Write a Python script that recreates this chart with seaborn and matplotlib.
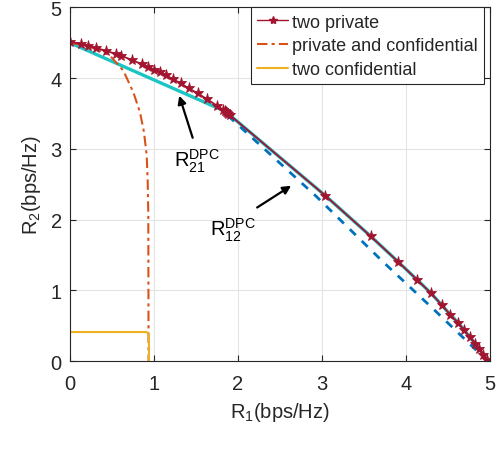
import numpy as np
import pandas as pd
import matplotlib
matplotlib.use("Agg")
import matplotlib.pyplot as plt
import seaborn as sns
from matplotlib.lines import Line2D

# ---------------------------------------------------------------
# Data
# ---------------------------------------------------------------
# two private (curved top part, then the near-straight part)
priv_x = [0.0, 0.131, 0.218, 0.31, 0.425, 0.548, 0.611, 0.734, 0.861, 0.925,
          1.0, 1.071, 1.143, 1.226, 1.318, 1.413, 1.52, 1.627, 1.75, 1.825,
          1.845, 1.86, 1.872, 1.885, 1.9,
          3.04, 3.58, 3.905, 4.131, 4.298, 4.425, 4.527, 4.619, 4.694, 4.758,
          4.825, 4.873, 4.92, 4.968]
priv_y = [4.516, 4.484, 4.455, 4.427, 4.389, 4.342, 4.318, 4.257, 4.196, 4.158,
          4.12, 4.083, 4.041, 3.985, 3.928, 3.857, 3.786, 3.706, 3.611, 3.55,
          3.535, 3.522, 3.51, 3.494, 3.48,
          2.338, 1.764, 1.405, 1.15, 0.958, 0.792, 0.655, 0.542, 0.434, 0.339,
          0.245, 0.17, 0.089, 0.01]

# R21 DPC (cyan) and R12 DPC (blue dashed)
dpc21_x = [0.0, 1.83, 1.9, 3.04, 3.58, 3.905, 4.131, 4.298, 4.425, 4.527, 4.619,
           4.694, 4.758, 4.825, 4.873, 4.92, 4.968]
dpc21_y = [4.5, 3.54, 3.48, 2.338, 1.764, 1.405, 1.15, 0.958, 0.792, 0.655, 0.542,
           0.434, 0.339, 0.245, 0.17, 0.089, 0.01]
dpc12_x = [1.88, 2.93, 3.72, 4.37, 4.97]
dpc12_y = [3.47, 2.33, 1.41, 0.685, 0.0]

# private and confidential
pc_x = [0.0, 0.2, 0.357, 0.476, 0.635, 0.754, 0.833, 0.881, 0.913, 0.925, 0.932, 0.935]
pc_y = [4.5, 4.46, 4.39, 4.318, 4.106, 3.80, 3.517, 3.235, 2.904, 2.528, 2.055, 0.0]

# two confidential
conf_x = [0.0, 0.9, 0.93, 0.94, 0.94]
conf_y = [0.41, 0.41, 0.40, 0.30, 0.0]

x_ticks = [0, 1, 2, 3, 4, 5]
y_ticks = [0, 1, 2, 3, 4, 5]
legend_labels = ["two private", "private and confidential", "two confidential"]

# ---------------------------------------------------------------
# Style
# ---------------------------------------------------------------
sns.set_theme(style="whitegrid")
plt.rcParams["font.family"] = ["Liberation Sans", "DejaVu Sans"]
plt.rcParams["mathtext.fontset"] = "custom"
plt.rcParams["mathtext.rm"] = "Liberation Sans"
plt.rcParams["mathtext.it"] = "Liberation Sans"

fig = plt.figure(figsize=(4.98, 4.56), dpi=100)
ax = fig.add_axes([0.1406, 0.2061, 0.8434, 0.7753])

axis_grey = "#262626"
c_priv = "#A2142F"
c_pc = "#D95319"
c_conf = "#EDB120"
c_21 = "#1CC4C4"
c_12 = "#0072BD"
pc_dash = (0, (5, 2, 1.5, 2))

kw = dict(sort=False, estimator=None, ax=ax, legend=False)
sns.lineplot(x=dpc21_x, y=dpc21_y, color=c_21, linewidth=2.4, **kw)
sns.lineplot(x=dpc12_x, y=dpc12_y, color=c_12, linewidth=2.0,
             linestyle=(0, (3, 3)), **kw)
sns.lineplot(x=pc_x, y=pc_y, color=c_pc, linewidth=1.5, linestyle=pc_dash, **kw)
sns.lineplot(x=conf_x, y=conf_y, color=c_conf, linewidth=1.5, **kw)
sns.lineplot(x=priv_x, y=priv_y, color=c_priv, linewidth=1.3, marker="*",
             markersize=8, markeredgewidth=0.6, markeredgecolor=c_priv, **kw)

ax.set_xlim(0, 5)
ax.set_ylim(0, 5)
ax.set_xticks(x_ticks)
ax.set_yticks(y_ticks)
ax.set_xticklabels([str(t) for t in x_ticks])
ax.set_yticklabels([str(t) for t in y_ticks])
ax.grid(True, color="#E3E3E3", linewidth=0.8)
ax.set_facecolor("white")
for s in ax.spines.values():
    s.set_visible(True)
    s.set_color(axis_grey)
    s.set_linewidth(0.8)
ax.tick_params(direction="in", length=4, width=0.8, colors=axis_grey,
               labelsize=14.5, top=True, right=True, bottom=True, left=True)
ax.tick_params(axis="x", pad=9.6)
ax.tick_params(axis="y", pad=6)

ax.set_xlabel(r"$\mathregular{R_1}$(bps/Hz)", fontsize=14.5, color=axis_grey, labelpad=5)
ax.set_ylabel(r"$\mathregular{R_2}$(bps/Hz)", fontsize=14.5, color=axis_grey, labelpad=5)

# annotations
ax.annotate("", xy=(1.29, 3.79), xytext=(1.47, 3.12),
            arrowprops=dict(arrowstyle="-|>", color="black", lw=1.6,
                            mutation_scale=12))
ax.text(1.238, 2.75, r"$\mathregular{R_{21}^{DPC}}$", fontsize=14.5,
        ha="left", va="baseline", color="black")
ax.annotate("", xy=(2.66, 2.5), xytext=(2.2, 2.15),
            arrowprops=dict(arrowstyle="-|>", color="black", lw=1.6,
                            mutation_scale=12))
ax.text(1.667, 1.78, r"$\mathregular{R_{12}^{DPC}}$", fontsize=14.5,
        ha="left", va="baseline", color="black")

# legend
handles = [
    Line2D([], [], color=c_priv, linewidth=1.0, marker="*", markersize=6),
    Line2D([], [], color=c_pc, linewidth=1.5, linestyle=pc_dash),
    Line2D([], [], color=c_conf, linewidth=1.5),
]
leg = ax.legend(handles, legend_labels,
                loc="upper right", bbox_to_anchor=(0.985, 1.0), fontsize=13,
                frameon=True, fancybox=False, framealpha=1, edgecolor=axis_grey,
                borderaxespad=0, handlelength=1.7, handletextpad=0.2,
                borderpad=0.35, labelspacing=0.37)
leg.get_frame().set_linewidth(0.8)

fig.savefig("out.png", dpi=100)
